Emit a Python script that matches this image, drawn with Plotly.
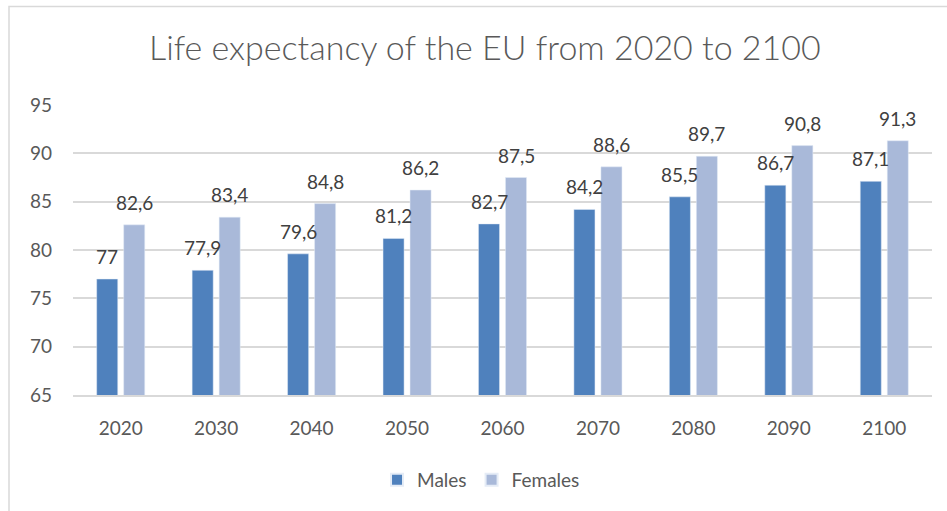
import plotly.graph_objects as go

years = ["2020", "2030", "2040", "2050", "2060", "2070", "2080", "2090", "2100"]
males = [77, 77.9, 79.6, 81.2, 82.7, 84.2, 85.5, 86.7, 87.1]
females = [82.6, 83.4, 84.8, 86.2, 87.5, 88.6, 89.7, 90.8, 91.3]
y_ticks = [65, 70, 75, 80, 85, 90, 95]

def fmt(v):
    s = ("%g" % v)
    return s.replace(".", ",")

TXT = "#595959"
LBL = "#404040"
FONT = "Lato"

fig = go.Figure()
fig.add_trace(go.Bar(name="Males", x=years, y=males, marker_color="#4F81BD"))
fig.add_trace(go.Bar(name="Females", x=years, y=females, marker_color="#A9B9D9"))

# data labels
for series, shift in ((males, -13.5), (females, 13.5)):
    for i, v in enumerate(series):
        fig.add_annotation(x=i, y=v, text=fmt(v), showarrow=False,
                           xref="x", yref="y", xanchor="center", yanchor="bottom",
                           xshift=shift, yshift=9,
                           font=dict(size=19, color=LBL, family=FONT))

fig.update_layout(
    width=947, height=511,
    margin=dict(l=73, r=15, t=105, b=116),
    paper_bgcolor="white", plot_bgcolor="white",
    barmode="group", bargap=0.434, bargroupgap=0.22,
    font=dict(family=FONT, color=TXT, size=18),
    title=dict(text="Life expectancy of the EU from 2020 to 2100",
               x=0.512, xanchor="center", y=0.905, yanchor="middle",
               font=dict(size=34, color=TXT, family=FONT, weight=300)),
    showlegend=True,
    legend=dict(orientation="h", x=0.475, xanchor="center", y=-0.293, yanchor="middle",
                font=dict(size=19, color=TXT, family=FONT), itemsizing="constant",
                traceorder="normal"),
    shapes=[dict(type="rect", xref="paper", yref="paper",
                 x0=-0.0745, x1=1.05, y0=-0.5, y1=1.34,
                 line=dict(color="#D9D9D9", width=1.5), fillcolor="rgba(0,0,0,0)",
                 layer="below")],
)
fig.update_xaxes(type="category", showgrid=False, showline=True, linecolor="#D9D9D9", linewidth=1.5,
                 ticks="", tickfont=dict(size=19, color=TXT), ticklabelstandoff=15)
fig.update_yaxes(range=[65, 95], tickvals=y_ticks, showgrid=True, gridcolor="#D9D9D9",
                 gridwidth=1.5, zeroline=False, showline=False, ticks="",
                 tickfont=dict(size=19, color=TXT), ticklabelstandoff=20)

fig.write_html("out.html")
